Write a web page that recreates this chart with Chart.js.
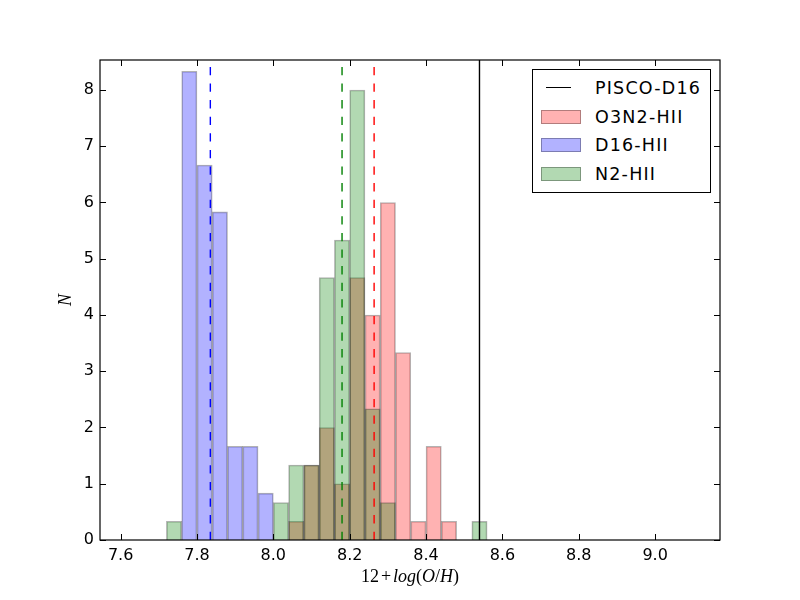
<!DOCTYPE html>
<html lang="en">
<head>
<meta charset="UTF-8">
<title>Metallicity histogram</title>
<script src="https://cdn.jsdelivr.net/npm/chart.js"></script>
<style>
  body { margin: 0; background: #fff; }
  #wrap { position: relative; width: 800px; height: 600px; }
  #legend { position: absolute; left: 532px; top: 69px; width: 177px; height: 122px;
            border: 1px solid #000; background: #fff; font-family: "DejaVu Sans", sans-serif;
            font-size: 17.5px; letter-spacing: 1.2px; }
  .item { position: absolute; left: 0; width: 177px; height: 20px; }
  .item span { position: absolute; left: 62px; top: 0; line-height: 20px; color: #000; white-space: nowrap; }
  .patch { position: absolute; left: 8px; top: 3px; width: 40px; height: 14px; box-sizing: border-box; border: 1px solid rgba(0,0,0,0.3); }
  .stroke { position: absolute; left: 13px; top: 9px; width: 25px; height: 0; border-top: 1.4px solid #000; }
</style>
</head>
<body>
<div id="wrap">
  <canvas id="hist" width="800" height="600"></canvas>
  <div id="legend"></div>
</div>
<script>
// histogram bins (width 0.04), given by their centres
const binCenters = [7.74, 7.78, 7.82, 7.86, 7.90, 7.94, 7.98, 8.02, 8.06, 8.10, 8.14,
                    8.18, 8.22, 8.26, 8.30, 8.34, 8.38, 8.42, 8.46, 8.50, 8.54];
const o3n2Counts = [0, 0, 0, 0, 0, 0, 0, 0, 0.333, 1.333, 2, 1, 4.667, 4, 6, 3.333, 0.333, 1.667, 0.333, 0, 0];
const d16Counts  = [0, 8.333, 6.667, 5.833, 1.667, 1.667, 0.833, 0, 0, 0, 0, 0, 0, 0, 0, 0, 0, 0, 0, 0, 0];
const n2Counts   = [0.333, 0, 0, 0, 0, 0, 0, 0.667, 1.333, 1.333, 4.667, 5.333, 8, 2.333, 0.667, 0, 0, 0, 0, 0, 0.333];

// vertical reference lines
const piscoValue = 8.54;
const o3n2Mean = 8.264;
const d16Mean = 7.835;
const n2Mean = 8.180;

const xTicks = [7.6, 7.8, 8.0, 8.2, 8.4, 8.6, 8.8, 9.0];
const yTicks = [0, 1, 2, 3, 4, 5, 6, 7, 8];
const xMin = 7.546, xMax = 9.17;
const yMax = 8.533;

const toPoints = counts => binCenters.map((c, i) => ({ x: c, y: counts[i] > 0 ? counts[i] : null }));
const vline = v => [{ x: v, y: 0 }, { x: v, y: yMax }];

const edge = 'rgba(0,0,0,0.3)';
function histSet(label, counts, fill, order) {
    return {
        type: 'bar', label, data: toPoints(counts), backgroundColor: fill,
        borderColor: edge, borderWidth: 1, borderSkipped: 'start',
        barPercentage: 1, categoryPercentage: 1, grouped: false, order
    };
}
function lineSet(label, v, color, dash) {
    return {
        type: 'line', label, data: vline(v), borderColor: color, borderWidth: 1.4,
        borderDash: dash, pointRadius: 0, fill: false, order: 1
    };
}

// frame + inward ticks on all four sides, like the old matplotlib look
const framePlugin = {
    id: 'frame',
    afterDraw(chart) {
        const { ctx, chartArea: a, scales } = chart;
        ctx.save();
        ctx.strokeStyle = '#000';
        ctx.lineWidth = 1;
        ctx.beginPath();
        scales.x.ticks.forEach(t => {
            const px = Math.round(scales.x.getPixelForValue(t.value)) + 0.5;
            ctx.moveTo(px, a.bottom); ctx.lineTo(px, a.bottom - 6);
            ctx.moveTo(px, a.top); ctx.lineTo(px, a.top + 6);
        });
        scales.y.ticks.forEach(t => {
            const py = Math.round(scales.y.getPixelForValue(t.value)) + 0.5;
            ctx.moveTo(a.left, py); ctx.lineTo(a.left + 6, py);
            ctx.moveTo(a.right, py); ctx.lineTo(a.right - 6, py);
        });
        ctx.stroke();
        ctx.lineWidth = 1.2;
        ctx.strokeRect(a.left, a.top, a.right - a.left, a.bottom - a.top);

        // axis labels, mathtext style: [text, font style, gap after]
        const parts = [['12', '', 2], ['+', '', 2], ['log', 'italic ', 0], ['(', '', 0], ['O', 'italic ', 0],
                       ['/', '', 0], ['H', 'italic ', 0], [')', '', 0]];
        const font = p => p[1] + '18px "Liberation Serif"';
        ctx.fillStyle = '#000';
        ctx.textBaseline = 'middle';
        ctx.textAlign = 'left';
        let total = 0;
        parts.forEach(p => { ctx.font = font(p); total += ctx.measureText(p[0]).width + p[2]; });
        let x = (a.left + a.right) / 2 - total / 2;
        parts.forEach(p => {
            ctx.font = font(p);
            ctx.fillText(p[0], x, 577);
            x += ctx.measureText(p[0]).width + p[2];
        });
        ctx.translate(66, (a.top + a.bottom) / 2);
        ctx.rotate(-Math.PI / 2);
        ctx.textAlign = 'center';
        ctx.font = 'italic 18px "Liberation Serif"';
        ctx.fillText('N', 0, 0);
        ctx.restore();
    }
};

const tickFont = { family: 'DejaVu Sans', size: 16 };

new Chart(document.getElementById('hist'), {
    data: {
        datasets: [
            histSet('O3N2-HII', o3n2Counts, 'rgba(255,0,0,0.3)', 5),
            histSet('D16-HII', d16Counts, 'rgba(0,0,255,0.3)', 4),
            histSet('N2-HII', n2Counts, 'rgba(0,128,0,0.3)', 3),
            lineSet('PISCO-D16', piscoValue, '#000', []),
            lineSet('O3N2 mean', o3n2Mean, '#ff0000', [8.3, 8.3]),
            lineSet('D16 mean', d16Mean, '#0000ff', [8.3, 8.3]),
            lineSet('N2 mean', n2Mean, '#008000', [8.3, 8.3])
        ]
    },
    options: {
        responsive: false,
        animation: false,
        layout: { padding: { top: 60, right: 80, left: 0, bottom: 0 } },
        plugins: { legend: { display: false }, tooltip: { enabled: false } },
        scales: {
            x: {
                type: 'linear', min: xMin, max: xMax, offset: false,
                grid: { display: false, drawTicks: false }, border: { display: false },
                afterBuildTicks: s => { s.ticks = xTicks.map(v => ({ value: v })); },
                afterFit: s => { s.height = 60; },
                ticks: { font: tickFont, color: '#000', padding: 6, maxRotation: 0, callback: v => v.toFixed(1) }
            },
            y: {
                type: 'linear', min: 0, max: yMax,
                grid: { display: false, drawTicks: false }, border: { display: false },
                afterBuildTicks: s => { s.ticks = yTicks.map(v => ({ value: v })); },
                afterFit: s => { s.width = 100; },
                ticks: { font: tickFont, color: '#000', padding: 6, callback: v => String(v) }
            }
        }
    },
    plugins: [framePlugin]
});

// legend box in the upper right of the axes
const legendItems = [
    { name: 'PISCO-D16', line: '#000' },
    { name: 'O3N2-HII', fill: 'rgba(255,0,0,0.3)' },
    { name: 'D16-HII', fill: 'rgba(0,0,255,0.3)' },
    { name: 'N2-HII', fill: 'rgba(0,128,0,0.3)' }
];
const legendRowsY = [8, 37, 65, 94];
const legend = document.getElementById('legend');
legendItems.forEach((it, i) => {
    const row = document.createElement('div');
    row.className = 'item';
    row.style.top = legendRowsY[i] + 'px';
    const mark = document.createElement('div');
    if (it.line) { mark.className = 'stroke'; } else { mark.className = 'patch'; mark.style.background = it.fill; }
    const txt = document.createElement('span');
    txt.textContent = it.name;
    row.appendChild(mark);
    row.appendChild(txt);
    legend.appendChild(row);
});
</script>
</body>
</html>
